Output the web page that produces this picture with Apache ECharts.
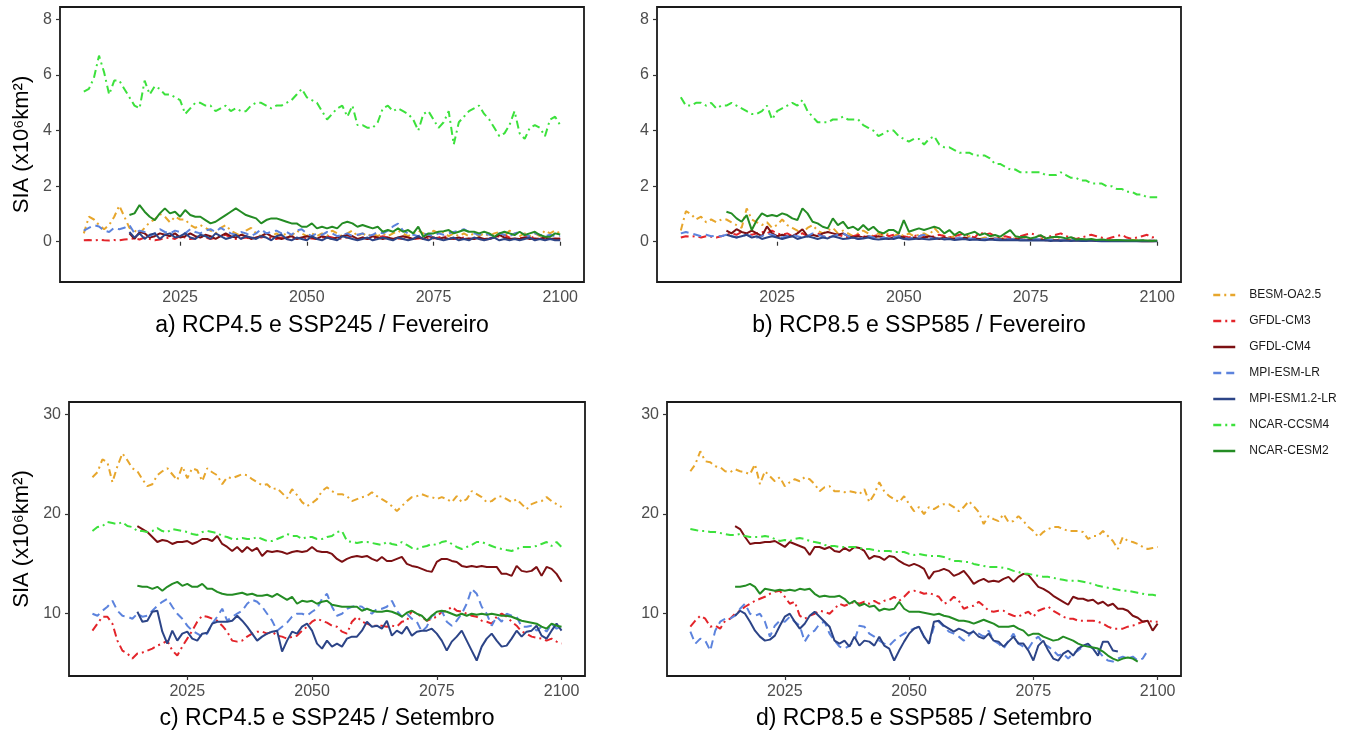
<!DOCTYPE html>
<html>
<head>
<meta charset="utf-8">
<title>SIA</title>
<script src="https://cdn.jsdelivr.net/npm/echarts@6/dist/echarts.min.js"></script>
<style>
  html, body { margin: 0; padding: 0; background: #fff; }
  #chart { width: 1345px; height: 733px; }
</style>
</head>
<body>
<div id="chart"></div>
<script>
// modelos, na ordem da legenda
const models = ['BESM-OA2.5', 'GFDL-CM3', 'GFDL-CM4', 'MPI-ESM-LR', 'MPI-ESM1.2-LR', 'NCAR-CCSM4', 'NCAR-CESM2'];
// CMIP5 comeca em 2006, CMIP6 em 2015
const firstYear = [2006, 2006, 2015, 2006, 2015, 2006, 2015];
const xTicks = [2025, 2050, 2075, 2100];
const yTicksFev = [0, 2, 4, 6, 8];
const yTicksSet = [10, 20, 30];
const panelTitles = [
  'a) RCP4.5 e SSP245 / Fevereiro',
  'b) RCP8.5 e SSP585 / Fevereiro',
  'c) RCP4.5 e SSP245 / Setembro',
  'd) RCP8.5 e SSP585 / Setembro'
];

// a) RCP4.5 e SSP245 / Fevereiro
const aBESM = [0.3, 0.9, 0.8, 0.6, 0.45, 0.6, 0.9, 1.3, 0.9, 0.5,
  0.4, 0.3, 0.5, 0.7, 0.8, 1.0, 0.9, 0.7, 0.9, 0.8,
  0.8, 0.6, 0.5, 0.6, 0.5, 0.4, 0.3, 0.5, 0.6, 0.4,
  0.3, 0.2, 0.4, 0.5, 0.3, 0.2, 0.3, 0.2, 0.3, 0.2,
  0.3, 0.2, 0.4, 0.3, 0.2, 0.3, 0.2, 0.3, 0.2, 0.4,
  0.3, 0.2, 0.3, 0.4, 0.2, 0.3, 0.2, 0.3, 0.2, 0.3,
  0.2, 0.3, 0.4, 0.3, 0.2, 0.3, 0.4, 0.3, 0.2, 0.4,
  0.3, 0.35, 0.2, 0.3, 0.2, 0.3, 0.2, 0.3, 0.2, 0.3,
  0.2, 0.3, 0.35, 0.2, 0.4, 0.3, 0.2, 0.3, 0.2, 0.3,
  0.2, 0.4, 0.3, 0.4, 0.3];
const aCM3 = [0.05, 0.06, 0.05, 0.07, 0.05, 0.04, 0.06, 0.05, 0.08, 0.1,
  0.12, 0.08, 0.15, 0.1, 0.05, 0.08, 0.12, 0.15, 0.1, 0.2,
  0.15, 0.1, 0.12, 0.2, 0.15, 0.1, 0.15, 0.2, 0.25, 0.15,
  0.1, 0.12, 0.15, 0.1, 0.2, 0.15, 0.2, 0.12, 0.1, 0.15,
  0.1, 0.08, 0.12, 0.15, 0.1, 0.12, 0.1, 0.15, 0.2, 0.15,
  0.1, 0.12, 0.15, 0.2, 0.25, 0.15, 0.1, 0.12, 0.15, 0.2,
  0.15, 0.1, 0.12, 0.1, 0.15, 0.1, 0.12, 0.15, 0.1, 0.12,
  0.15, 0.2, 0.15, 0.1, 0.12, 0.15, 0.1, 0.12, 0.1, 0.08,
  0.1, 0.15, 0.2, 0.25, 0.15, 0.1, 0.12, 0.15, 0.2, 0.12,
  0.1, 0.15, 0.12, 0.1, 0.12];
const aCM4 = [0.3, 0.1, 0.35, 0.3, 0.15, 0.2,
  0.3, 0.25, 0.2, 0.3, 0.15, 0.2, 0.3, 0.2, 0.15, 0.25,
  0.2, 0.1, 0.2, 0.3, 0.2, 0.15, 0.25, 0.2, 0.1, 0.15,
  0.2, 0.3, 0.2, 0.15, 0.1, 0.15, 0.2, 0.1, 0.15, 0.2,
  0.15, 0.1, 0.2, 0.15, 0.1, 0.15, 0.2, 0.25, 0.2, 0.1,
  0.15, 0.1, 0.2, 0.15, 0.1, 0.15, 0.1, 0.15, 0.2, 0.15,
  0.1, 0.15, 0.1, 0.2, 0.15, 0.1, 0.15, 0.1, 0.12, 0.15,
  0.1, 0.12, 0.1, 0.15, 0.1, 0.12, 0.15, 0.25, 0.15, 0.1,
  0.12, 0.1, 0.15, 0.1, 0.12, 0.1, 0.15, 0.1, 0.12, 0.1];
const aMPILR = [0.4, 0.5, 0.6, 0.55, 0.4, 0.35, 0.5, 0.45, 0.5, 0.6,
  0.3, 0.4, 0.35, 0.2, 0.3, 0.45, 0.35, 0.3, 0.4, 0.35,
  0.3, 0.45, 0.35, 0.3, 0.4, 0.45, 0.35, 0.5, 0.4, 0.3,
  0.25, 0.35, 0.3, 0.2, 0.3, 0.45, 0.3, 0.35, 0.4, 0.3,
  0.35, 0.25, 0.4, 0.45, 0.3, 0.2, 0.3, 0.25, 0.35, 0.3,
  0.2, 0.25, 0.3, 0.2, 0.25, 0.3, 0.2, 0.25, 0.35, 0.3,
  0.4, 0.55, 0.65, 0.4, 0.3, 0.25, 0.2, 0.3, 0.25, 0.2,
  0.3, 0.25, 0.3, 0.35, 0.4, 0.45, 0.35, 0.3, 0.25, 0.3,
  0.25, 0.2, 0.3, 0.25, 0.2, 0.3, 0.35, 0.25, 0.2, 0.3,
  0.25, 0.2, 0.25, 0.2, 0.2];
const aMPI12 = [0.35, 0.15, 0.3, 0.1, 0.25, 0.3,
  0.1, 0.25, 0.3, 0.15, 0.2, 0.3, 0.15, 0.1, 0.25, 0.2,
  0.1, 0.3, 0.2, 0.1, 0.15, 0.25, 0.1, 0.2, 0.15, 0.1,
  0.2, 0.15, 0.05, 0.2, 0.25, 0.1, 0.05, 0.15, 0.1, 0.05,
  0.2, 0.1, 0.05, 0.15, 0.1, 0.05, 0.2, 0.15, 0.1, 0.05,
  0.1, 0.15, 0.05, 0.1, 0.15, 0.1, 0.05, 0.15, 0.1, 0.05,
  0.1, 0.2, 0.1, 0.05, 0.15, 0.1, 0.05, 0.1, 0.15, 0.05,
  0.1, 0.05, 0.15, 0.1, 0.05, 0.1, 0.15, 0.05, 0.1, 0.05,
  0.1, 0.05, 0.1, 0.15, 0.05, 0.1, 0.05, 0.1, 0.05, 0.05];
const aCCSM4 = [5.4, 5.5, 5.9, 6.7, 6.1, 5.3, 5.8, 5.8, 5.5, 5.2,
  4.9, 4.8, 5.8, 5.3, 5.6, 5.5, 5.3, 5.3, 5.2, 5.1,
  4.6, 4.8, 5.0, 5.0, 4.9, 4.9, 4.7, 4.8, 4.9, 4.7,
  4.8, 4.7, 4.7, 4.9, 5.0, 5.0, 4.9, 4.8, 4.9, 4.9,
  5.0, 5.1, 5.3, 5.5, 5.2, 5.1, 5.0, 4.7, 4.4, 4.6,
  4.8, 4.9, 4.5, 4.9, 4.2, 4.2, 4.1, 4.1, 4.3, 4.8,
  4.9, 4.7, 4.8, 4.7, 4.6, 4.4, 4.0, 4.6, 4.7, 4.4,
  4.1, 4.3, 4.7, 3.5, 4.3, 4.5, 4.7, 4.8, 4.9, 4.6,
  4.4, 4.1, 3.8, 3.9, 4.2, 4.7, 3.9, 3.7, 4.1, 4.2,
  4.1, 3.8, 4.4, 4.5, 4.2];
const aCESM2 = [0.96, 1.02, 1.32, 1.08, 0.9, 0.78,
  1.02, 1.2, 1.02, 1.08, 0.9, 1.14, 0.96, 0.9, 0.9, 0.78,
  0.66, 0.72, 0.84, 0.96, 1.08, 1.2, 1.08, 0.96, 0.9, 0.84,
  0.66, 0.78, 0.84, 0.84, 0.78, 0.72, 0.66, 0.66, 0.54, 0.54,
  0.66, 0.48, 0.54, 0.48, 0.54, 0.48, 0.66, 0.72, 0.66, 0.54,
  0.6, 0.54, 0.48, 0.54, 0.36, 0.42, 0.36, 0.48, 0.36, 0.42,
  0.3, 0.54, 0.18, 0.3, 0.3, 0.36, 0.38, 0.42, 0.3, 0.36,
  0.42, 0.36, 0.36, 0.3, 0.36, 0.3, 0.18, 0.3, 0.36, 0.3,
  0.24, 0.36, 0.24, 0.3, 0.36, 0.24, 0.18, 0.18, 0.3, 0.26];

// b) RCP8.5 e SSP585 / Fevereiro
const bBESM = [0.4, 1.1, 1.0, 0.8, 0.9, 0.7, 0.8, 0.7, 0.8, 0.8,
  0.7, 0.6, 0.5, 1.2, 0.8, 0.7, 0.6, 0.7, 0.5, 0.6,
  0.8, 0.6, 0.5, 0.4, 0.3, 0.5, 0.6, 0.4, 0.3, 0.4,
  0.5, 0.3, 0.4, 0.3, 0.2, 0.3, 0.4, 0.3, 0.2, 0.3,
  0.2, 0.3, 0.2, 0.3, 0.2, 0.3, 0.2, 0.25, 0.3, 0.2,
  0.5, 0.3, 0.2, 0.15, 0.2, 0.15, 0.1, 0.2, 0.15, 0.1,
  0.15, 0.1, 0.12, 0.1, 0.15, 0.1, 0.12, 0.1, 0.08, 0.1,
  0.08, 0.1, 0.12, 0.08, 0.1, 0.08, 0.1, 0.06, 0.08, 0.1,
  0.06, 0.08, 0.05, 0.06, 0.08, 0.05, 0.06, 0.05, 0.04, 0.06,
  0.05, 0.04, 0.05, 0.04, 0.05];
const bCM3 = [0.15, 0.2, 0.18, 0.2, 0.15, 0.2, 0.18, 0.15, 0.2, 0.25,
  0.3, 0.25, 0.35, 0.3, 0.25, 0.3, 0.35, 0.3, 0.4, 0.3,
  0.25, 0.3, 0.2, 0.25, 0.3, 0.2, 0.25, 0.3, 0.2, 0.15,
  0.2, 0.25, 0.2, 0.15, 0.2, 0.25, 0.2, 0.15, 0.2, 0.25,
  0.3, 0.2, 0.25, 0.3, 0.2, 0.15, 0.2, 0.25, 0.2, 0.15,
  0.2, 0.25, 0.2, 0.15, 0.2, 0.25, 0.3, 0.2, 0.15, 0.35,
  0.25, 0.3, 0.2, 0.15, 0.2, 0.15, 0.1, 0.2, 0.25, 0.3,
  0.25, 0.2, 0.15, 0.2, 0.25, 0.3, 0.2, 0.15, 0.1, 0.15,
  0.2, 0.25, 0.2, 0.15, 0.1, 0.15, 0.2, 0.25, 0.15, 0.1,
  0.15, 0.2, 0.25, 0.15, 0.2];
const bCM4 = [0.4, 0.3, 0.45, 0.35, 0.3, 0.4,
  0.3, 0.2, 0.55, 0.3, 0.2, 0.25, 0.2, 0.2, 0.3, 0.45,
  0.2, 0.25, 0.2, 0.3, 0.35, 0.3, 0.25, 0.3, 0.2, 0.15,
  0.2, 0.15, 0.2, 0.15, 0.2, 0.15, 0.1, 0.15, 0.2, 0.15,
  0.1, 0.15, 0.1, 0.15, 0.2, 0.15, 0.1, 0.15, 0.1, 0.12,
  0.1, 0.15, 0.1, 0.12, 0.1, 0.08, 0.1, 0.12, 0.1, 0.08,
  0.1, 0.08, 0.1, 0.06, 0.08, 0.06, 0.08, 0.05, 0.06, 0.05,
  0.06, 0.05, 0.04, 0.05, 0.04, 0.05, 0.04, 0.03, 0.04, 0.03,
  0.04, 0.03, 0.04, 0.03, 0.03, 0.03, 0.02, 0.03, 0.02, 0.03];
const bMPILR = [0.3, 0.35, 0.3, 0.25, 0.2, 0.25, 0.2, 0.22, 0.2, 0.25,
  0.2, 0.15, 0.2, 0.25, 0.2, 0.15, 0.2, 0.3, 0.25, 0.2,
  0.15, 0.2, 0.25, 0.2, 0.15, 0.2, 0.3, 0.25, 0.2, 0.15,
  0.2, 0.25, 0.3, 0.2, 0.15, 0.1, 0.15, 0.2, 0.15, 0.1,
  0.15, 0.1, 0.15, 0.2, 0.15, 0.1, 0.15, 0.2, 0.25, 0.15,
  0.1, 0.15, 0.1, 0.12, 0.1, 0.15, 0.1, 0.12, 0.1, 0.08,
  0.1, 0.12, 0.1, 0.08, 0.1, 0.08, 0.1, 0.08, 0.06, 0.08,
  0.1, 0.08, 0.06, 0.08, 0.06, 0.05, 0.06, 0.08, 0.06, 0.05,
  0.06, 0.05, 0.04, 0.06, 0.05, 0.04, 0.05, 0.04, 0.05, 0.04,
  0.03, 0.04, 0.05, 0.04, 0.03];
const bMPI12 = [0.25, 0.2, 0.15, 0.2, 0.25, 0.15,
  0.2, 0.1, 0.15, 0.2, 0.15, 0.1, 0.15, 0.2, 0.1, 0.15,
  0.2, 0.15, 0.1, 0.15, 0.12, 0.2, 0.15, 0.1, 0.12, 0.15,
  0.1, 0.12, 0.15, 0.1, 0.08, 0.1, 0.12, 0.1, 0.15, 0.1,
  0.08, 0.1, 0.12, 0.1, 0.08, 0.1, 0.12, 0.08, 0.1, 0.06,
  0.08, 0.1, 0.06, 0.08, 0.06, 0.05, 0.08, 0.06, 0.05, 0.06,
  0.05, 0.06, 0.04, 0.05, 0.04, 0.05, 0.04, 0.05, 0.03, 0.04,
  0.03, 0.04, 0.03, 0.04, 0.03, 0.03, 0.04, 0.03, 0.02, 0.03,
  0.02, 0.03, 0.02, 0.03, 0.02, 0.02, 0.03, 0.02, 0.02, 0.02];
const bCCSM4 = [5.2, 4.9, 4.9, 5.0, 5.0, 4.9, 5.0, 4.8, 4.9, 4.9,
  5.0, 4.9, 4.8, 4.7, 4.6, 4.6, 4.7, 4.9, 4.4, 4.7,
  4.8, 4.9, 5.0, 4.9, 5.1, 4.7, 4.5, 4.3, 4.3, 4.3,
  4.4, 4.4, 4.5, 4.4, 4.4, 4.4, 4.2, 4.1, 4.0, 3.8,
  3.9, 4.0, 4.0, 3.8, 3.7, 3.6, 3.7, 3.7, 3.5, 3.7,
  3.8, 3.5, 3.4, 3.4, 3.3, 3.2, 3.2, 3.2, 3.1, 3.1,
  3.1, 3.0, 2.8, 2.8, 2.7, 2.6, 2.6, 2.5, 2.5, 2.5,
  2.5, 2.5, 2.4, 2.4, 2.4, 2.5, 2.4, 2.3, 2.3, 2.2,
  2.2, 2.1, 2.1, 2.1, 2.0, 2.0, 1.9, 1.9, 1.8, 1.8,
  1.7, 1.7, 1.6, 1.6, 1.6];
const bCESM2 = [1.08, 1.02, 0.84, 0.72, 0.96, 0.42,
  0.78, 1.02, 0.92, 0.96, 0.92, 1.02, 0.96, 0.84, 0.78, 1.2,
  1.02, 0.72, 0.66, 0.54, 0.48, 0.84, 0.6, 0.72, 0.48, 0.54,
  0.42, 0.6, 0.42, 0.54, 0.36, 0.3, 0.42, 0.42, 0.3, 0.78,
  0.36, 0.42, 0.48, 0.42, 0.48, 0.54, 0.48, 0.3, 0.42, 0.24,
  0.36, 0.24, 0.3, 0.36, 0.24, 0.3, 0.2, 0.24, 0.18, 0.3,
  0.42, 0.2, 0.16, 0.18, 0.12, 0.16, 0.24, 0.12, 0.16, 0.18,
  0.16, 0.12, 0.16, 0.08, 0.1, 0.08, 0.1, 0.06, 0.08, 0.06,
  0.05, 0.06, 0.05, 0.04, 0.05, 0.04, 0.05, 0.04, 0.03, 0.04];

// c) RCP4.5 e SSP245 / Setembro
const cBESM = [23.7, 24.2, 25.5, 25.2, 23.2, 24.8, 26.1, 25.4, 24.6, 24.3,
  23.5, 22.8, 23.0, 23.9, 24.3, 24.6, 24.0, 23.4, 24.8, 23.6,
  24.6, 24.4, 23.3, 24.6, 24.2, 23.9, 23.0, 23.7, 23.6, 23.8,
  24.0, 23.9, 23.5, 23.2, 22.9, 23.0, 22.5, 22.6, 22.1, 21.6,
  22.5, 21.9, 21.2, 20.8, 21.1, 21.5, 22.3, 22.7, 22.3, 22.0,
  22.0, 21.8, 21.3, 21.5, 21.7, 21.8, 22.2, 21.8, 21.5, 21.2,
  20.8, 20.3, 20.8, 21.3, 21.7, 21.8, 22.0, 21.8, 21.7, 21.5,
  21.7, 21.5, 21.2, 21.8, 21.2, 21.5, 22.3, 22.0, 21.7, 21.2,
  21.3, 21.7, 21.8, 21.5, 21.2, 21.5, 21.0, 20.5, 21.0, 21.2,
  21.3, 21.7, 21.3, 21.0, 20.7];
const cCM3 = [8.3, 9.0, 9.7, 9.7, 9.0, 7.3, 6.3, 6.0, 5.5, 6.0,
  6.1, 6.3, 6.5, 6.8, 7.0, 7.3, 6.3, 5.8, 6.7, 7.5,
  8.3, 9.2, 9.8, 9.7, 9.5, 9.3, 8.8, 8.2, 7.3, 7.2,
  7.3, 7.7, 8.0, 8.2, 8.2, 8.0, 8.2, 7.8, 7.7, 7.5,
  7.7, 7.8, 8.3, 8.7, 9.2, 9.5, 9.3, 9.1, 8.8, 8.7,
  8.2, 8.0, 9.2, 9.7, 9.2, 9.0, 8.8, 8.8, 8.8, 8.7,
  8.8, 8.7, 9.2, 9.3, 10.3, 10.0, 9.7, 9.3, 9.5, 9.7,
  10.2, 10.3, 10.7, 10.3, 10.2, 10.0, 9.8, 9.7, 9.3, 9.2,
  9.0, 9.7, 10.0, 9.7, 9.2, 8.8, 8.2, 8.0, 7.7, 7.6,
  7.5, 7.3, 7.5, 7.2, 7.0];
const cCM4 = [18.8, 18.5, 18.2, 17.7, 17.2, 17.4,
  17.3, 17.0, 17.2, 17.2, 17.3, 17.0, 17.2, 17.5, 17.5, 17.3,
  17.8, 17.0, 16.7, 16.3, 16.7, 16.2, 16.7, 16.3, 16.6, 15.8,
  16.3, 16.2, 16.3, 16.2, 16.0, 16.2, 16.3, 16.2, 16.3, 16.7,
  16.3, 16.2, 16.2, 16.0, 15.5, 15.2, 15.5, 15.7, 15.8, 15.7,
  15.8, 15.5, 15.3, 15.7, 15.3, 15.3, 15.5, 15.7, 15.0, 14.8,
  14.7, 14.5, 14.3, 14.2, 15.2, 15.5, 15.5, 15.3, 15.2, 14.8,
  14.7, 14.8, 14.7, 14.8, 14.7, 14.7, 14.7, 14.0, 14.0, 13.8,
  14.8, 14.3, 14.2, 14.3, 14.7, 13.8, 14.7, 14.5, 14.0, 13.2];
const cMPILR = [10.0, 9.8, 10.3, 10.7, 11.3, 10.3, 9.8, 9.7, 9.5, 10.0,
  9.7, 9.8, 10.3, 10.8, 11.2, 11.5, 10.7, 10.0, 9.5, 8.8,
  8.3, 8.0, 7.7, 8.0, 9.0, 9.7, 10.5, 9.3, 9.7, 10.0,
  10.3, 11.0, 11.4, 11.2, 10.7, 10.0, 9.3, 8.3, 8.7, 9.1,
  9.7, 10.0, 10.0, 9.8, 10.2, 10.5, 11.5, 12.0, 10.7, 9.8,
  10.0, 10.5, 10.7, 10.8, 10.7, 10.3, 10.0, 10.5, 10.5, 10.7,
  11.3, 10.3, 9.7, 10.0, 9.5, 9.2, 8.2, 8.7, 9.8, 10.0,
  10.3, 9.2, 8.8, 9.3, 10.0, 11.0, 12.5, 12.0, 10.7, 10.0,
  8.8, 9.7, 9.2, 10.0, 9.8, 9.7, 8.7, 8.7, 8.8, 8.3,
  8.7, 8.2, 9.0, 8.5, 8.7];
const cMPI12 = [10.2, 9.2, 9.3, 10.2, 10.3, 8.2,
  7.0, 8.3, 7.3, 8.0, 8.2, 7.5, 7.3, 8.0, 8.1, 9.0,
  9.2, 9.2, 9.2, 9.3, 9.8, 9.3, 8.7, 8.0, 7.3, 7.7,
  8.0, 8.2, 8.3, 6.2, 7.3, 8.2, 8.0, 8.7, 9.0, 8.3,
  7.0, 6.5, 7.3, 6.7, 7.0, 6.7, 7.5, 7.7, 7.7, 8.3,
  9.2, 8.7, 8.8, 8.5, 9.3, 7.8, 8.3, 8.0, 8.7, 7.8,
  8.2, 8.3, 8.3, 8.5, 8.0, 7.3, 6.3, 7.2, 7.7, 8.3,
  7.3, 6.3, 5.3, 6.7, 7.5, 8.0, 7.3, 6.7, 6.8, 7.5,
  8.3, 7.7, 8.2, 8.3, 8.8, 7.8, 7.5, 8.3, 9.0, 8.3];
const cCCSM4 = [18.3, 18.7, 18.8, 19.2, 19.1, 19.0, 19.2, 18.8, 18.7, 18.3,
  18.3, 18.2, 18.3, 18.6, 18.3, 18.2, 18.5, 18.4, 18.3, 18.2,
  18.0, 17.9, 18.2, 18.3, 18.2, 18.1, 17.8, 17.7, 17.5, 17.5,
  17.6, 17.5, 17.5, 17.7, 17.5, 17.3, 17.3, 17.5, 17.7, 18.0,
  17.8, 17.8, 17.5, 17.7, 17.7, 17.5, 17.5, 17.7, 17.8, 18.2,
  18.3, 17.3, 17.2, 17.1, 17.2, 17.2, 17.1, 17.0, 16.9, 17.2,
  17.0, 16.9, 17.2, 16.9, 16.6, 16.5, 16.7, 16.8, 17.0, 16.9,
  17.2, 17.3, 17.0, 16.7, 16.5, 16.7, 16.9, 17.2, 17.2, 17.0,
  16.8, 16.6, 16.5, 16.4, 16.3, 16.5, 16.7, 16.7, 16.7, 16.8,
  17.0, 17.2, 16.8, 17.2, 16.7];
const cCESM2 = [12.8, 12.7, 12.7, 12.5, 12.7, 12.3,
  12.7, 13.0, 13.2, 12.8, 13.0, 12.7, 12.7, 13.0, 12.5, 12.5,
  12.2, 12.0, 11.9, 11.9, 12.0, 12.1, 11.9, 12.0, 11.8, 11.8,
  11.9, 11.7, 12.0, 11.7, 11.4, 11.7, 11.0, 11.3, 11.2, 11.3,
  11.0, 11.2, 11.3, 10.9, 10.8, 10.7, 10.7, 10.7, 10.7, 10.3,
  10.5, 10.3, 10.2, 10.2, 10.3, 10.2, 10.0, 9.7, 10.1, 10.3,
  10.0, 9.8, 9.3, 9.8, 10.2, 10.3, 10.2, 10.0, 9.8, 10.0,
  9.8, 10.0, 9.9, 10.0, 9.9, 10.0, 9.9, 9.8, 9.8, 9.7,
  9.5, 9.3, 9.2, 9.1, 9.0, 8.7, 8.5, 9.0, 8.8, 8.7];

// d) RCP8.5 e SSP585 / Setembro
const dBESM = [24.3, 25.0, 26.3, 25.3, 25.2, 24.8, 24.7, 24.3, 24.2, 24.5,
  24.3, 24.2, 24.0, 25.0, 23.0, 24.3, 23.8, 23.3, 23.7, 22.8,
  23.2, 23.5, 23.3, 23.7, 23.5, 23.0, 22.3, 22.7, 22.8, 22.3,
  22.3, 22.2, 22.3, 22.2, 22.0, 22.5, 21.2, 22.0, 23.2, 22.3,
  21.8, 21.5, 21.2, 21.8, 21.0, 20.3, 20.7, 20.0, 20.7, 20.5,
  20.8, 21.0, 21.0, 20.7, 20.3, 20.7, 21.3, 20.8, 20.2, 19.0,
  19.8, 19.5, 19.3, 20.0, 19.2, 19.3, 19.8, 19.3, 18.7, 18.3,
  17.7, 18.2, 18.5, 18.7, 18.7, 18.5, 18.3, 18.3, 18.3, 18.2,
  17.5, 17.8, 17.8, 18.3, 17.8, 17.3, 16.5, 17.7, 17.3, 17.2,
  17.0, 16.7, 16.5, 16.6, 16.7];
const dCM3 = [8.7, 9.3, 9.8, 9.5, 8.7, 8.8, 8.5, 9.3, 9.5, 10.0,
  10.3, 10.7, 11.0, 11.3, 11.5, 11.7, 12.0, 12.2, 12.3, 11.7,
  11.0, 11.2, 9.8, 9.5, 9.8, 10.0, 10.3, 10.2, 10.0, 10.5,
  11.0, 10.8, 11.0, 11.2, 11.0, 11.2, 11.0, 11.3, 11.0, 11.3,
  11.4, 11.7, 11.3, 11.7, 12.2, 12.3, 12.2, 12.0, 12.1, 11.9,
  11.7, 11.0, 11.2, 11.7, 11.3, 10.5, 10.7, 10.8, 11.2, 10.8,
  10.3, 10.2, 10.3, 10.3, 10.0, 9.8, 9.7, 10.0, 10.2, 9.7,
  10.3, 10.5, 10.7, 10.3, 10.0, 9.7, 9.5, 9.5, 9.3, 9.3,
  9.3, 9.3, 9.2, 9.0, 8.7, 8.5, 8.5, 8.5, 8.7, 8.8,
  9.0, 9.2, 9.3, 9.2, 9.2];
const dCM4 = [18.8, 18.5, 17.7, 17.0, 17.1, 17.1,
  17.2, 17.2, 17.3, 17.0, 16.7, 17.2, 17.0, 16.8, 16.6, 15.9,
  16.7, 16.7, 16.5, 16.7, 16.3, 16.2, 16.6, 16.3, 16.7, 16.6,
  16.3, 15.5, 15.8, 15.7, 15.4, 15.8, 15.7, 15.3, 15.0, 14.8,
  15.0, 14.8, 14.5, 13.5, 14.2, 14.3, 14.5, 14.3, 13.8, 14.0,
  14.3, 13.7, 13.0, 13.3, 13.5, 13.2, 13.3, 13.2, 13.5, 13.7,
  13.2, 13.7, 14.0, 13.9, 13.3, 12.7, 12.5, 12.2, 11.8, 11.5,
  11.2, 10.9, 11.7, 11.5, 11.5, 11.3, 11.4, 11.0, 11.2, 10.8,
  11.0, 10.5, 10.5, 10.3, 9.8, 9.6, 9.2, 9.3, 8.3, 9.0];
const dMPILR = [8.2, 7.0, 7.5, 7.3, 6.3, 8.3, 9.2, 9.5, 9.5, 9.8,
  10.5, 11.0, 10.0, 9.8, 10.0, 9.2, 7.7, 8.8, 9.3, 9.2,
  9.7, 9.2, 8.8, 7.2, 8.0, 8.3, 9.0, 9.2, 8.0, 7.3,
  6.7, 6.5, 6.8, 7.3, 8.8, 8.7, 8.0, 7.7, 7.3, 7.0,
  6.8, 7.3, 7.7, 8.0, 8.3, 8.5, 8.7, 7.7, 7.0, 8.7,
  9.2, 8.7, 8.2, 8.0, 7.7, 7.3, 7.8, 8.3, 8.0, 7.7,
  8.3, 7.3, 7.0, 6.5, 7.3, 8.0, 7.0, 6.7, 6.5, 7.3,
  7.7, 7.0, 6.7, 6.3, 5.8, 6.0, 5.5, 6.0, 6.3, 6.7,
  6.8, 6.5, 6.3, 5.7, 5.3, 5.2, 5.5, 5.7, 5.5, 5.7,
  5.3, 5.5, 6.3];
const dMPI12 = [9.8, 10.3, 10.0, 9.2, 8.3, 7.7,
  7.3, 7.4, 7.8, 8.8, 9.7, 10.0, 9.2, 8.5, 9.0, 9.8,
  10.2, 9.7, 9.2, 8.7, 7.3, 7.0, 7.3, 6.7, 7.7, 6.8,
  7.3, 7.2, 6.8, 7.7, 6.8, 6.5, 5.3, 6.3, 7.2, 8.0,
  8.5, 8.7, 7.7, 7.0, 9.2, 9.3, 8.8, 8.5, 8.2, 8.5,
  8.3, 8.0, 8.2, 7.7, 7.5, 8.0, 7.3, 7.2, 6.7, 7.2,
  7.7, 7.0, 7.0, 6.3, 5.3, 6.8, 7.3, 6.3, 5.5, 5.3,
  6.0, 6.3, 5.8, 6.5, 6.8, 7.0, 6.5, 5.8, 7.2, 7.2,
  6.3, 6.2];
const dCCSM4 = [18.5, 18.4, 18.3, 18.3, 18.2, 18.2, 18.1, 18.0, 17.9, 17.9,
  18.0, 17.8, 17.7, 17.7, 17.7, 17.8, 17.7, 17.5, 17.3, 17.4,
  17.3, 17.5, 17.6, 17.5, 17.3, 17.2, 17.1, 16.9, 16.8, 16.8,
  16.7, 16.7, 16.7, 16.7, 16.6, 16.5, 16.5, 16.4, 16.3, 16.3,
  16.3, 16.2, 16.2, 16.2, 16.0, 15.9, 16.0, 15.9, 15.8, 15.8,
  15.8, 15.7, 15.5, 15.3, 15.3, 15.2, 15.2, 15.0, 14.9, 14.8,
  14.7, 14.7, 14.7, 14.6, 14.5, 14.3, 14.2, 14.0, 14.0, 13.9,
  13.8, 13.7, 13.7, 13.6, 13.5, 13.4, 13.3, 13.3, 13.3, 13.2,
  13.1, 13.0, 12.8, 12.7, 12.6, 12.5, 12.4, 12.3, 12.3, 12.2,
  12.1, 12.0, 11.9, 11.9, 11.8];
const dCESM2 = [12.7, 12.7, 12.8, 13.0, 12.7, 12.0,
  12.5, 12.4, 12.3, 12.4, 12.3, 12.4, 12.3, 12.5, 12.4, 12.5,
  12.0, 11.7, 11.8, 11.7, 11.7, 11.8, 11.5, 11.0, 11.3, 10.8,
  11.0, 10.7, 10.8, 10.3, 10.5, 10.4, 10.5, 11.2, 10.5, 10.2,
  10.2, 10.2, 10.1, 10.0, 9.9, 10.0, 9.8, 9.7, 9.5, 9.3,
  9.3, 9.2, 9.0, 9.2, 9.4, 9.2, 9.0, 8.7, 8.7, 8.7,
  8.8, 8.5, 8.3, 7.8, 8.0, 8.0, 7.7, 7.5, 7.3, 7.4,
  7.7, 7.5, 7.3, 7.0, 6.8, 6.7, 6.6, 6.5, 6.2, 5.8,
  5.5, 5.3, 5.5, 5.6, 5.5, 5.2];

const panelData = [
  [aBESM, aCM3, aCM4, aMPILR, aMPI12, aCCSM4, aCESM2],
  [bBESM, bCM3, bCM4, bMPILR, bMPI12, bCCSM4, bCESM2],
  [cBESM, cCM3, cCM4, cMPILR, cMPI12, cCCSM4, cCESM2],
  [dBESM, dCM3, dCM4, dMPILR, dMPI12, dCCSM4, dCESM2]
];

const colors = ['#E7A62C', '#E3242A', '#7C1013', '#5C83DD', '#2C4487', '#3CE13C', '#248C24'];
const dashes = [[7, 4, 2, 4], [8, 4, 2, 4], 'solid', [8, 5], 'solid', [8, 4, 2, 4], 'solid'];

const FONT = '"Liberation Sans", Arial, sans-serif';

const grids = [
  { left: 60, top: 7, width: 524, height: 275 },
  { left: 657, top: 7, width: 524, height: 275 },
  { left: 69, top: 402, width: 516, height: 274 },
  { left: 667, top: 402, width: 514, height: 274 }
].map(g => Object.assign(g, { show: true, borderColor: '#1a1a1a', borderWidth: 1.8, backgroundColor: '#fff' }));

const xAxes = grids.map((g, i) => ({
  type: 'value', gridIndex: i, min: 2001.3, max: 2104.7,
  axisLine: { show: false },
  splitLine: { show: false },
  axisTick: { show: true, length: 4, customValues: xTicks, lineStyle: { color: '#333', width: 1.2 } },
  axisLabel: { customValues: xTicks, formatter: v => String(v), color: '#4d4d4d', fontSize: 16, fontFamily: FONT, margin: 8 }
}));

const yAxes = grids.map((g, i) => {
  const fev = i < 2;
  const ticks = fev ? yTicksFev : yTicksSet;
  return {
    type: 'value', gridIndex: i,
    min: fev ? -1.45 : 3.75, max: fev ? 8.45 : 31.25,
    axisLine: { show: false },
    splitLine: { show: false },
    axisTick: { show: true, length: 4, customValues: ticks, lineStyle: { color: '#333', width: 1.2 } },
    axisLabel: { customValues: ticks, color: '#4d4d4d', fontSize: 16, fontFamily: FONT, margin: 8 },
    name: (i % 2 === 0) ? 'SIA (x10\u2076km\u00b2)' : '',
    nameLocation: 'middle', nameRotate: 90,
    nameGap: i === 0 ? 27 : 36,
    nameTextStyle: { fontSize: 22, color: '#000', fontFamily: FONT }
  };
});

const series = [];
panelData.forEach((list, p) => {
  list.forEach((vals, m) => {
    series.push({
      type: 'line', name: models[m],
      xAxisIndex: p, yAxisIndex: p,
      data: vals.map((v, k) => [firstYear[m] + k, v]),
      symbol: 'none', showSymbol: false, silent: true,
      lineStyle: { color: colors[m], width: 2, type: dashes[m] },
      itemStyle: { color: colors[m] },
      z: 2 + m
    });
  });
});

const titleCenters = [[322, 326], [919, 326], [327, 719], [924, 719]];

const chart = echarts.init(document.getElementById('chart'), null, { renderer: 'canvas' });
chart.setOption({
  animation: false,
  backgroundColor: '#fff',
  grid: grids,
  xAxis: xAxes,
  yAxis: yAxes,
  legend: {
    data: models, orient: 'vertical', left: 1207, top: 284,
    itemWidth: 22, itemHeight: 14, itemGap: 14,
    itemStyle: { opacity: 0, borderWidth: 0 },
    lineStyle: { width: 2.5 },
    textStyle: { fontSize: 12, color: '#1a1a1a', fontFamily: FONT, padding: [0, 0, 0, 9] },
    selectedMode: false
  },
  graphic: panelTitles.map((t, i) => ({
    type: 'text', x: titleCenters[i][0], y: titleCenters[i][1],
    style: { text: t, textAlign: 'center', textVerticalAlign: 'middle', font: '23px ' + FONT, fill: '#000' }
  })),
  series: series
});
</script>
</body>
</html>
